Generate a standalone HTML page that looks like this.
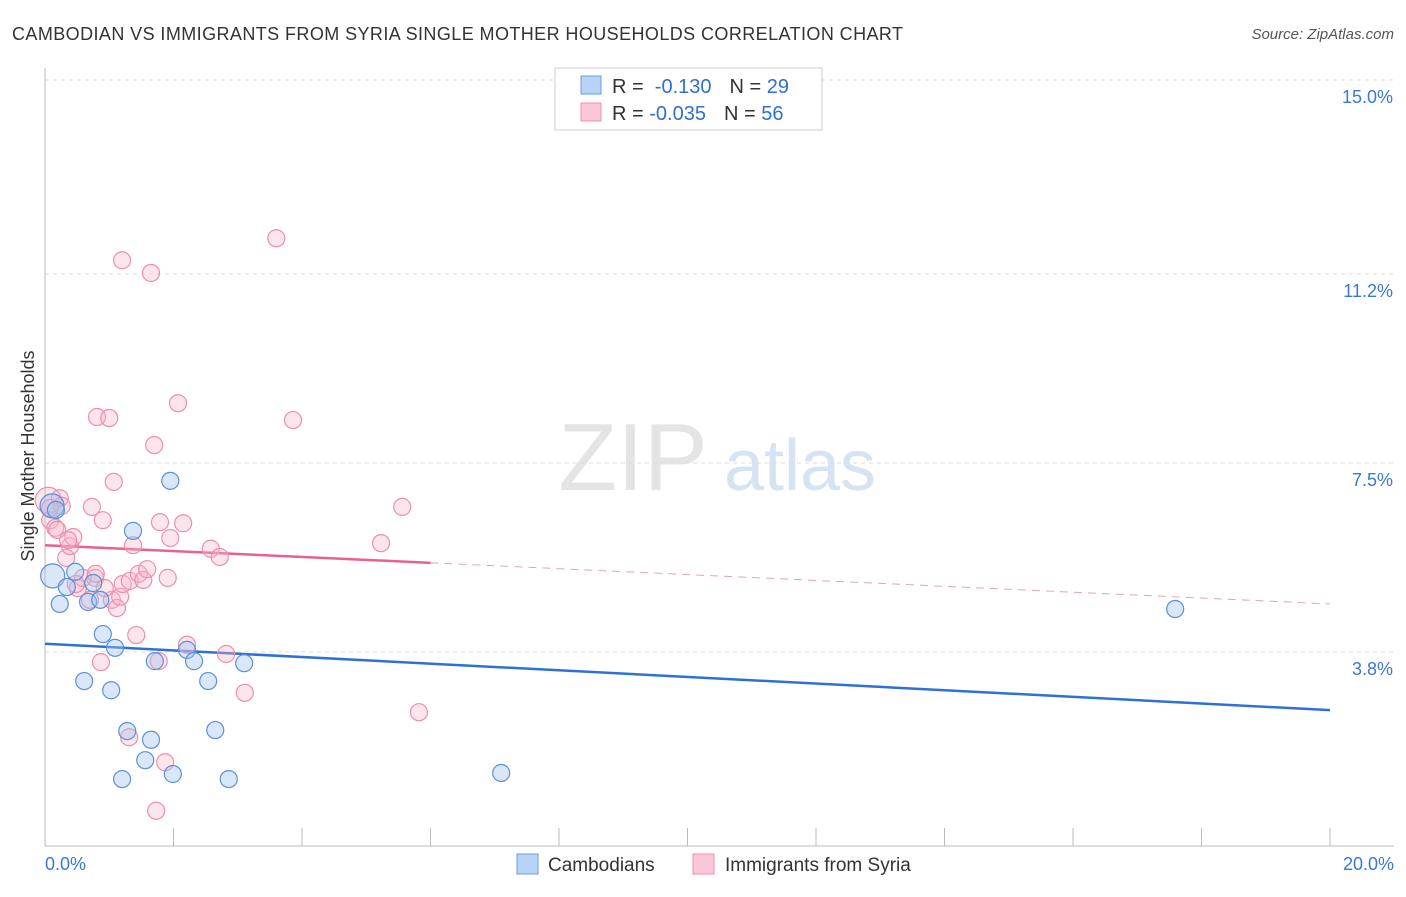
<!DOCTYPE html>
<html><head><meta charset="utf-8"><style>
body{margin:0;background:#fff;font-family:"Liberation Sans",sans-serif}
svg text{font-family:"Liberation Sans",sans-serif}
</style></head><body>
<svg id="chart" width="1406" height="892">
<text x="12" y="40" font-size="18" fill="#333" textLength="891" lengthAdjust="spacing">CAMBODIAN VS IMMIGRANTS FROM SYRIA SINGLE MOTHER HOUSEHOLDS CORRELATION CHART</text>
<text x="1394" y="39" font-size="15" fill="#555" font-style="italic" text-anchor="end">Source: ZipAtlas.com</text>
<text x="633" y="490" font-size="96" fill="#e4e4e4" font-family="Liberation Serif" text-anchor="middle">ZIP</text>
<text x="800" y="490" font-size="72" fill="#d6e3f3" text-anchor="middle">atlas</text>
<text transform="translate(34,456) rotate(-90)" font-size="18" fill="#333" text-anchor="middle">Single Mother Households</text>
<g id="grid"></g><g id="axes"></g><g id="trend"></g><g id="pts"></g>
<g>
<rect x="555" y="68" width="267" height="62" fill="#fff" stroke="#ccc"/>
<rect x="581" y="76" width="20" height="18" fill="#b8d3f5" stroke="#6b9ee0"/>
<rect x="581" y="103" width="20" height="18" fill="#fac7d6" stroke="#ec8fab"/>
<text x="612" y="93" font-size="20" fill="#333">R = <tspan fill="#2f6fcf">&#160;-0.130</tspan><tspan dx="18">N = </tspan><tspan fill="#2f6fcf">29</tspan></text>
<text x="612" y="120" font-size="20" fill="#333">R = <tspan fill="#2f6fcf">-0.035</tspan><tspan dx="18">N = </tspan><tspan fill="#2f6fcf">56</tspan></text>
</g>
<g>
<rect x="517" y="854" width="21" height="20" fill="#b8d3f5" stroke="#6b9ee0"/>
<text x="548" y="871" font-size="19" fill="#333">Cambodians</text>
<rect x="693" y="854" width="21" height="20" fill="#fac7d6" stroke="#ec8fab"/>
<text x="725" y="871" font-size="19" fill="#333">Immigrants from Syria</text>
</g>
</svg>
<script>
const yTicks=[3.8,7.5,11.2,15.0];
const yTickLabels=["3.8%","7.5%","11.2%","15.0%"];
const xTickLabels=["0.0%","20.0%"];
const camX=[0.11,0.12,0.23,0.34,0.47,0.67,0.86,0.75,0.90,1.09,0.61,1.03,1.37,1.95,1.71,2.21,2.32,2.54,3.10,1.28,1.65,2.65,1.56,1.99,1.20,2.86,7.10,17.59,0.17];
const camY=[6.66,5.29,4.74,5.07,5.37,4.78,4.82,5.15,4.15,3.88,3.23,3.05,6.17,7.15,3.62,3.84,3.62,3.23,3.58,2.25,2.08,2.27,1.68,1.41,1.31,1.31,1.43,4.64,6.58];
const syrX=[0.05,0.08,0.16,0.23,0.19,0.26,0.33,0.39,0.44,0.51,0.59,0.73,0.90,1.07,0.78,0.79,1.04,1.12,1.17,1.21,1.32,1.37,1.46,1.53,1.59,1.79,1.95,2.15,1.91,2.58,2.72,2.07,1.70,0.81,1.00,1.20,1.65,3.60,3.86,5.56,5.23,2.21,2.82,1.77,0.87,1.42,3.11,5.82,1.31,1.87,1.73,0.48,0.36,0.70,0.93,0.08];
const syrY=[6.77,6.38,6.23,6.81,6.19,6.66,5.64,5.87,6.05,5.05,5.25,6.64,6.38,7.13,5.25,5.33,4.82,4.66,4.88,5.13,5.19,5.89,5.33,5.21,5.42,6.34,6.03,6.32,5.25,5.82,5.66,8.67,7.85,8.40,8.38,11.47,11.22,11.90,8.34,6.64,5.93,3.94,3.76,3.62,3.60,4.13,3.00,2.62,2.13,1.64,0.69,5.13,5.99,4.82,5.05,6.62];
const camTrend=[3.96,2.66];
const syrTrend=[5.89,4.74];
const NS="http://www.w3.org/2000/svg";
const X=v=>45+v*64.25, Y=v=>846-v*51.07;
function mk(tag,attrs,parent){const e=document.createElementNS(NS,tag);for(const k in attrs)e.setAttribute(k,attrs[k]);document.getElementById(parent).appendChild(e);return e;}
yTicks.forEach((t,i)=>{
 const g=mk('line',{x1:45,x2:1394,y1:Y(t),y2:Y(t),stroke:'#ddd','stroke-dasharray':'4,4'},'grid');
 
 
 const l=mk('text',{x:1393,y:Y(t)+23,'font-size':18,fill:'#3a78d4','text-anchor':'end'},'grid');
 l.textContent=yTickLabels[i];
 
 
});
const ax=mk('line',{x1:45,x2:45,y1:68,y2:846,stroke:'#bbb'},'axes');


const bx=mk('line',{x1:45,x2:1394,y1:846,y2:846,stroke:'#bbb'},'axes');


for(let i=1;i<=10;i++){
 const t=mk('line',{x1:X(i*2),x2:X(i*2),y1:828,y2:846,stroke:'#bbb'},'axes');
 
 
}
[[0,'start',45],[20,'end',1394]].forEach((a,i)=>{
 const t=mk('text',{x:a[2],y:870,'font-size':18,fill:'#3a78d4','text-anchor':a[1]},'axes');
 t.textContent=xTickLabels[i];
 
 
});
const bt=mk('line',{x1:X(0),x2:X(20),y1:Y(camTrend[0]),y2:Y(camTrend[1]),stroke:'#2f6fd6','stroke-width':2.5},'trend');


const sm=syrTrend[0]+(syrTrend[1]-syrTrend[0])*0.3;
const pt1=mk('line',{x1:X(0),x2:X(6),y1:Y(syrTrend[0]),y2:Y(sm),stroke:'#e8628d','stroke-width':2.5},'trend');


const pt2=mk('line',{x1:X(6),x2:X(20),y1:Y(sm),y2:Y(syrTrend[1]),stroke:'#e8a0b6','stroke-width':1,'stroke-dasharray':'8,6'},'trend');


syrX.forEach((x,i)=>{
 const c=mk('circle',{cx:X(x),cy:Y(syrY[i]),r:i==0?13:8.5,fill:'rgba(248,180,200,0.35)',stroke:'#ec8fab','stroke-width':1.2},'pts');
 
 
});
camX.forEach((x,i)=>{
 const c=mk('circle',{cx:X(x),cy:Y(camY[i]),r:(i==0||i==1)?12:8.5,fill:'rgba(160,195,240,0.4)',stroke:'#5a90dc','stroke-width':1.2},'pts');
 
 
});
</script>
</body></html>
